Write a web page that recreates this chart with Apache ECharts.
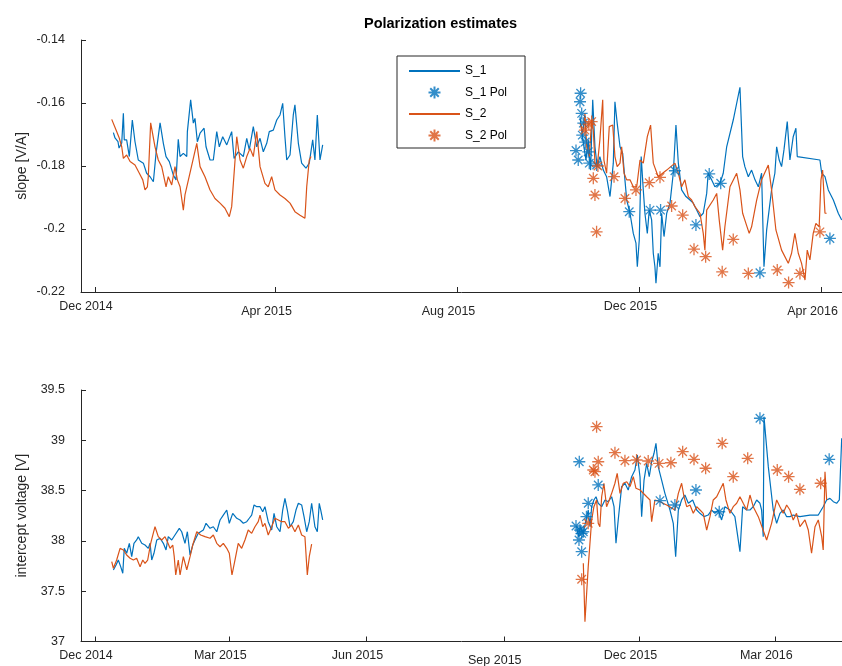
<!DOCTYPE html>
<html><head><meta charset="utf-8">
<script src="https://cdn.jsdelivr.net/npm/echarts@6/dist/echarts.min.js"></script>
<style>html,body{margin:0;padding:0;background:#fff}#c{width:842px;height:666px}</style>
</head><body><div id="c"></div><script>
// ---- data (x = days since 2014-12-01) ----
const xTickDatesTop = ['2014-12-01','2015-04-01','2015-08-01','2015-12-01','2016-04-01'];
const xTickLabelsTop = ['Dec 2014','Apr 2015','Aug 2015','Dec 2015','Apr 2016'];
const xTickDatesBottom = ['2014-12-01','2015-03-01','2015-06-01','2015-09-01','2015-12-01','2016-03-01'];
const xTickLabelsBottom = ['Dec 2014','Mar 2015','Jun 2015','Sep 2015','Dec 2015','Mar 2016'];
const xMinDay = -9.4, xMaxDay = 500.7;

const topS1Seg1 = [[12.3,-0.1694],[13.4,-0.1711],[15.4,-0.1723],[16.1,-0.1743],[17.9,-0.1727],[19.0,-0.1633],[19.6,-0.1717],[21.2,-0.1717],[23.0,-0.1770],[25.0,-0.1654],[26.8,-0.1723],[29.0,-0.1781],[32.4,-0.1791],[34.6,-0.1823],[36.9,-0.1834],[39.1,-0.1850],[40.9,-0.1760],[43.6,-0.1663],[45.8,-0.1728],[47.6,-0.1770],[49.8,-0.1786],[52.5,-0.1829],[54.3,-0.1844],[55.8,-0.1715],[57.0,-0.1770],[59.2,-0.1760],[61.5,-0.1770],[61.9,-0.1691],[64.1,-0.1590],[65.9,-0.1664],[67.0,-0.1649],[68.6,-0.1723],[70.4,-0.1696],[73.1,-0.1680],[74.4,-0.1739],[77.1,-0.1781],[79.3,-0.1781],[81.6,-0.1691],[83.3,-0.1739],[85.6,-0.1707],[88.3,-0.1733],[91.6,-0.1691],[93.2,-0.1776],[96.0,-0.1755],[99.4,-0.1770],[101.7,-0.1712],[103.4,-0.1749],[106.1,-0.1675],[108.4,-0.1739],[110.6,-0.1712],[112.8,-0.1755],[115.1,-0.1728],[116.8,-0.1691],[119.5,-0.1686],[121.8,-0.1654],[124.0,-0.1638],[125.8,-0.1601],[127.3,-0.1707],[128.5,-0.1781],[130.7,-0.1765],[132.9,-0.1638],[134.0,-0.1606],[136.3,-0.1728],[138.5,-0.1791],[141.4,-0.1807],[143.6,-0.1791],[145.9,-0.1717],[147.4,-0.1781],[149.0,-0.1638],[150.8,-0.1781],[152.6,-0.1733]];
const topS1Seg2 = [[325.1,-0.1643],[326.2,-0.1686],[327.7,-0.1739],[329.1,-0.1781],[330.6,-0.1717],[332.2,-0.1813],[333.6,-0.1590],[335.1,-0.1739],[336.6,-0.1802],[338.4,-0.1770],[340.7,-0.1813],[342.9,-0.1834],[345.2,-0.1897],[346.3,-0.1844],[347.4,-0.1791],[348.5,-0.1596],[350.0,-0.1664],[351.9,-0.1739],[353.7,-0.1760],[355.2,-0.1844],[356.4,-0.1908],[358.6,-0.1950],[360.8,-0.2014],[362.6,-0.2045],[363.5,-0.2120],[364.8,-0.2035],[366.1,-0.1770],[367.5,-0.1876],[368.6,-0.1950],[370.2,-0.2014],[371.5,-0.1940],[373.1,-0.1971],[374.2,-0.2077],[375.3,-0.2120],[376.0,-0.2172],[377.5,-0.2077],[378.7,-0.2120],[379.8,-0.1950],[381.4,-0.2024],[383.2,-0.1950],[385.4,-0.1918],[387.6,-0.1823],[389.4,-0.1670],[391.0,-0.1791],[393.2,-0.1876],[396.1,-0.1897],[398.8,-0.1908],[401.0,-0.1918],[403.3,-0.1940],[405.5,-0.1961],[407.7,-0.1950],[410.0,-0.1887],[411.0,-0.1823],[413.3,-0.1844],[415.5,-0.1866],[418.9,-0.1855],[421.1,-0.1823],[423.4,-0.1739],[427.8,-0.1654],[432.3,-0.1550],[434.1,-0.1770],[435.6,-0.1802],[437.9,-0.1834],[440.1,-0.1813],[442.4,-0.1844],[444.6,-0.1866],[446.8,-0.1823],[448.4,-0.2120],[450.2,-0.2003],[453.5,-0.1876],[455.7,-0.1823],[456.9,-0.1739],[458.6,-0.1781],[460.2,-0.1802],[461.8,-0.1749],[464.0,-0.1659],[465.8,-0.1781],[468.0,-0.1707],[469.8,-0.1680],[470.7,-0.1770],[485.9,-0.1781],[487.1,-0.1823],[489.3,-0.1834],[491.5,-0.1876],[494.9,-0.1908],[498.2,-0.1950],[500.5,-0.1971]];
const topS2Seg1 = [[11.2,-0.1652],[14.1,-0.1686],[16.3,-0.1712],[17.9,-0.1739],[19.0,-0.1776],[21.2,-0.1765],[23.5,-0.1786],[26.8,-0.1797],[29.7,-0.1823],[32.0,-0.1844],[33.5,-0.1876],[35.1,-0.1866],[35.7,-0.1834],[37.3,-0.1663],[40.2,-0.1739],[42.4,-0.1781],[44.7,-0.1802],[47.6,-0.1866],[49.1,-0.1834],[51.4,-0.1860],[53.6,-0.1802],[55.2,-0.1844],[57.0,-0.1866],[59.2,-0.1940],[60.3,-0.1892],[68.2,-0.1728],[70.4,-0.1802],[73.7,-0.1834],[77.1,-0.1876],[80.4,-0.1903],[83.8,-0.1918],[87.1,-0.1934],[90.0,-0.1961],[91.6,-0.1929],[95.0,-0.1707],[97.2,-0.1781],[99.4,-0.1807],[101.7,-0.1770],[103.9,-0.1744],[106.1,-0.1770],[108.4,-0.1691],[110.6,-0.1802],[113.9,-0.1855],[116.1,-0.1866],[118.4,-0.1834],[120.6,-0.1876],[124.0,-0.1892],[127.3,-0.1903],[130.7,-0.1918],[134.0,-0.1945],[137.4,-0.1956],[140.7,-0.1966],[141.9,-0.1866],[143.6,-0.1781],[144.8,-0.1770]];
const topS2Seg2 = [[325.1,-0.1664],[326.9,-0.1696],[328.4,-0.1633],[329.6,-0.1739],[331.3,-0.1770],[332.9,-0.1654],[334.0,-0.1686],[335.1,-0.1791],[336.6,-0.1802],[338.4,-0.1717],[340.3,-0.1590],[341.1,-0.1781],[342.9,-0.1823],[344.7,-0.1675],[347.0,-0.1670],[348.5,-0.1770],[350.0,-0.1802],[351.9,-0.1791],[353.0,-0.1739],[354.6,-0.1823],[356.4,-0.1844],[358.6,-0.1844],[360.8,-0.1866],[363.1,-0.1866],[365.3,-0.1781],[367.5,-0.1791],[370.2,-0.1707],[372.4,-0.1670],[374.2,-0.1791],[377.5,-0.1834],[383.2,-0.1813],[388.7,-0.1791],[391.0,-0.1823],[393.2,-0.1866],[395.4,-0.1844],[397.7,-0.1897],[399.9,-0.1908],[402.1,-0.1929],[405.5,-0.1950],[407.7,-0.2014],[408.8,-0.2067],[410.0,-0.1940],[414.4,-0.1908],[416.7,-0.1887],[418.4,-0.1971],[420.7,-0.2067],[422.2,-0.1993],[425.6,-0.1866],[430.1,-0.1823],[432.3,-0.1876],[434.1,-0.1950],[436.3,-0.1982],[438.5,-0.2014],[440.1,-0.1993],[443.5,-0.1908],[446.8,-0.1844],[451.3,-0.1797],[453.5,-0.1876],[456.4,-0.2003],[460.2,-0.2067],[464.7,-0.2109],[466.9,-0.2077],[469.1,-0.2014],[471.4,-0.2077],[473.6,-0.2109],[475.9,-0.2162],[477.4,-0.2067],[479.2,-0.2098],[481.4,-0.2014],[483.2,-0.1982],[485.4,-0.1993],[486.6,-0.1844],[487.7,-0.1813],[489.3,-0.1950],[490.4,-0.1950]];
const topS1Pol = [[325.5,-0.1569],[325.1,-0.1596],[326.2,-0.1633],[327.3,-0.1664],[326.6,-0.1702],[328.6,-0.1724],[322.4,-0.1751],[323.9,-0.1781],[330.6,-0.1755],[331.3,-0.1791],[336.2,-0.1797],[358.1,-0.1945],[372.0,-0.1940],[379.1,-0.1940],[388.7,-0.1815],[411.7,-0.1825],[419.4,-0.1855],[402.8,-0.1987],[445.7,-0.2139],[492.6,-0.2030]];
const topS2Pol = [[328.4,-0.1686],[331.0,-0.1667],[332.9,-0.1659],[334.0,-0.1839],[335.1,-0.1892],[336.2,-0.2009],[337.1,-0.1800],[347.9,-0.1834],[355.2,-0.1903],[362.6,-0.1876],[371.5,-0.1853],[378.7,-0.1836],[386.5,-0.1927],[393.9,-0.1956],[401.5,-0.2064],[409.3,-0.2088],[420.4,-0.2136],[427.8,-0.2033],[437.9,-0.2141],[457.3,-0.2130],[464.9,-0.2170],[472.5,-0.2141],[485.9,-0.2009]];

const botS1Seg1 = [[12.3,37.711],[14.1,37.760],[15.6,37.810],[17.2,37.744],[18.6,37.678],[19.6,37.926],[21.2,37.877],[23.0,37.976],[24.6,37.843],[26.1,37.976],[27.9,38.009],[29.0,38.042],[31.3,37.976],[33.5,37.959],[35.7,37.926],[36.9,37.976],[38.0,37.810],[39.5,37.877],[41.4,38.009],[43.6,38.026],[45.8,37.976],[47.6,37.910],[49.1,38.042],[51.4,38.009],[53.6,38.059],[56.5,38.125],[58.1,38.091],[60.3,37.976],[61.9,38.091],[63.7,37.860],[65.5,37.959],[67.0,38.009],[69.2,38.075],[72.6,38.108],[74.4,38.175],[77.1,38.125],[79.3,38.141],[81.6,38.091],[83.8,38.208],[86.0,38.257],[88.3,38.307],[90.0,38.175],[92.3,38.274],[95.0,38.225],[97.2,38.208],[99.4,38.175],[101.7,38.191],[103.4,38.225],[105.0,38.257],[106.6,38.357],[108.4,38.340],[110.6,38.340],[112.4,38.290],[113.9,38.340],[116.1,38.191],[118.4,38.108],[120.0,38.274],[121.8,38.141],[124.0,38.091],[125.8,38.307],[127.3,38.423],[128.9,38.307],[130.7,38.141],[132.9,38.191],[134.7,38.307],[136.3,38.374],[138.5,38.357],[140.1,38.241],[141.9,38.091],[143.6,38.191],[145.2,38.374],[147.4,38.141],[149.0,38.091],[150.3,38.374],[151.3,38.307],[152.6,38.208]];
const botS1Seg2 = [[322.9,38.141],[323.9,38.042],[325.5,38.141],[327.3,38.075],[329.1,38.208],[330.6,38.307],[331.8,38.141],[332.9,38.340],[334.4,38.407],[335.8,38.439],[337.3,38.374],[339.6,38.340],[341.8,38.407],[344.0,38.390],[346.3,38.439],[347.9,38.340],[349.2,37.976],[350.7,38.208],[353.0,38.539],[355.2,38.573],[357.4,38.506],[359.7,38.638],[361.9,38.705],[363.5,38.854],[365.3,38.638],[366.4,38.241],[368.0,38.605],[369.8,38.771],[371.5,38.638],[373.1,38.787],[374.7,38.871],[376.0,38.970],[377.5,38.738],[379.8,38.605],[382.0,38.473],[385.4,38.307],[387.6,38.175],[389.2,37.843],[391.0,38.307],[393.2,38.407],[395.4,38.456],[397.7,38.374],[400.6,38.407],[403.3,38.307],[405.5,38.274],[408.2,38.241],[411.0,38.257],[413.3,38.307],[415.5,38.274],[417.7,38.307],[420.0,38.208],[422.2,38.340],[425.6,38.307],[428.9,38.241],[432.3,37.893],[434.1,38.340],[436.8,38.307],[439.0,38.307],[441.2,38.340],[443.5,38.407],[445.7,38.374],[446.8,38.307],[447.9,38.042],[448.4,39.235],[451.3,38.738],[454.6,38.307],[456.9,38.175],[459.1,38.274],[461.3,38.307],[463.6,38.241],[465.8,38.241],[468.0,38.257],[472.5,38.241],[479.2,38.257],[484.8,38.257],[488.1,38.340],[490.4,38.407],[492.6,38.423],[494.9,38.390],[497.1,38.374],[498.9,38.407],[500.5,39.020]];
const botS2Seg1 = [[11.2,37.793],[12.3,37.728],[14.5,37.810],[16.8,37.926],[19.0,37.910],[21.2,37.860],[23.5,37.827],[25.7,37.810],[27.9,37.827],[30.2,37.744],[32.0,37.810],[33.5,37.777],[35.3,37.810],[37.3,37.976],[40.2,38.141],[42.4,38.042],[44.7,38.009],[46.9,38.042],[48.5,37.992],[50.3,37.926],[52.1,37.959],[53.1,37.843],[54.1,37.661],[55.8,37.810],[57.0,37.661],[59.2,37.843],[61.5,37.711],[63.7,37.843],[65.5,37.959],[68.2,38.091],[70.8,38.059],[73.7,38.042],[77.1,38.026],[79.3,38.059],[81.6,37.976],[83.8,37.942],[86.0,37.976],[88.3,37.926],[90.0,37.877],[91.8,37.661],[93.8,37.810],[96.0,37.976],[98.3,37.926],[100.5,38.009],[102.7,38.108],[105.0,38.075],[107.2,38.141],[109.4,38.191],[110.6,38.257],[112.4,38.141],[113.9,38.175],[116.1,38.059],[118.4,38.141],[120.6,38.225],[122.9,38.208],[125.1,38.191],[127.3,38.191],[129.6,38.125],[131.8,38.158],[134.0,38.091],[136.3,38.158],[138.5,38.059],[140.7,38.042],[142.3,37.661],[143.6,37.843],[145.2,37.969]];
const botS2Seg2 = [[327.3,37.777],[328.4,37.197],[330.6,37.744],[332.9,38.208],[334.4,38.340],[336.2,38.407],[337.3,38.175],[338.4,38.141],[339.6,38.439],[341.1,38.573],[342.9,38.340],[344.7,38.407],[346.3,38.473],[348.5,38.573],[350.0,38.672],[351.9,38.473],[354.1,38.573],[356.4,38.588],[358.6,38.539],[360.8,38.638],[362.6,38.523],[365.3,38.506],[369.8,38.439],[372.0,38.407],[373.1,38.191],[375.3,38.407],[378.7,38.390],[383.2,38.357],[388.7,38.307],[391.0,38.473],[393.2,38.573],[394.8,38.439],[396.6,38.340],[398.8,38.357],[401.0,38.274],[403.3,38.340],[405.5,38.307],[407.7,38.274],[410.0,38.108],[412.2,38.241],[414.4,38.407],[416.7,38.439],[418.9,38.506],[421.1,38.573],[422.9,38.407],[425.6,38.274],[427.8,38.340],[430.1,38.374],[432.3,38.439],[434.5,38.374],[436.8,38.307],[439.0,38.456],[441.2,38.340],[444.6,38.241],[450.2,38.009],[453.5,38.175],[456.9,38.407],[459.1,38.340],[461.3,38.274],[463.6,38.357],[465.8,38.307],[468.0,38.208],[470.2,38.274],[472.5,38.141],[475.9,38.208],[478.1,38.108],[480.3,37.877],[482.6,38.141],[484.8,38.208],[487.1,38.042],[488.1,37.910],[489.3,38.688],[490.4,38.407]];
const botS1Pol = [[324.6,38.787],[322.4,38.148],[325.1,38.108],[326.2,38.075],[327.3,38.091],[326.2,37.893],[324.4,38.009],[329.4,38.241],[330.6,38.374],[337.3,38.556],[378.7,38.400],[388.7,38.357],[402.8,38.506],[418.4,38.290],[445.7,39.219],[492.1,38.811]];
const botS2Pol = [[336.2,39.135],[337.3,38.787],[334.0,38.705],[335.1,38.688],[326.2,37.618],[330.6,38.175],[348.5,38.877],[355.2,38.797],[363.0,38.804],[370.8,38.794],[378.1,38.771],[386.0,38.777],[393.9,38.887],[401.5,38.811],[409.3,38.722],[420.4,38.970],[427.8,38.638],[437.5,38.821],[457.3,38.705],[464.9,38.638],[472.5,38.513],[486.4,38.573]];

// ---- build ----
const BASE = Date.UTC(2014, 11, 1), DAY = 864e5;
const toT = d => BASE + d * DAY;
const conv = arr => arr.map(p => [toT(p[0]), p[1]]);
const joinSegs = (a, b) => conv(a).concat([[toT(a[a.length-1][0] + 1), null]], conv(b));
const parseD = s => { const p = s.split('-').map(Number); return Date.UTC(p[0], p[1]-1, p[2]); };
const ticksTop = xTickDatesTop.map(parseD), ticksBot = xTickDatesBottom.map(parseD);

const C1 = '#0072BD', C2 = '#D95319', AX = '#262626';
const STAR = 'path://M0,5L10,5M5,0L5,10M1.46,1.46L8.54,8.54M1.46,8.54L8.54,1.46';
const FONT = '"Liberation Sans", Arial, Helvetica, sans-serif';

function xAxis(gi, ticks, labels) {
  return {
    type: 'value', gridIndex: gi, min: toT(xMinDay), max: toT(xMaxDay), scale: true,
    axisLine: { show: true, onZero: false, lineStyle: { color: AX, width: 1 } },
    axisTick: { show: true, inside: true, length: 5, customValues: ticks, lineStyle: { color: AX } },
    axisLabel: { customValues: ticks, color: AX, fontSize: 12.5, fontFamily: FONT, margin: 8,
      formatter: v => { const i = ticks.indexOf(v); if (i < 0) return ''; const s = labels[i];
        return /[gpjqy]/.test(s) ? '{d|' + s + '}' : '{n|' + s + '}'; },
      rich: { n: { fontSize: 12.5, fontFamily: FONT, color: AX, padding: [0, 18, 0, 0] },
              d: { fontSize: 12.5, fontFamily: FONT, color: AX, padding: [5, 18, 0, 0] } } },
    splitLine: { show: false }
  };
}
function yAxis(gi, min, max, interval, name) {
  return {
    type: 'value', gridIndex: gi, min, max, interval, name, nameLocation: 'middle', nameGap: 52,
    nameMoveOverlap: false,
    nameTextStyle: { color: AX, fontSize: 14, fontFamily: FONT },
    axisLine: { show: true, onZero: false, lineStyle: { color: AX, width: 1 } },
    axisTick: { show: true, inside: true, length: 5, lineStyle: { color: AX } },
    axisLabel: { color: AX, fontSize: 12.5, fontFamily: FONT, margin: 16 },
    splitLine: { show: false }
  };
}
const lineS = (name, data, color, ai) => ({ name, type: 'line', data, xAxisIndex: ai, yAxisIndex: ai,
  symbol: 'none', showSymbol: false, connectNulls: false, lineStyle: { color, width: 1.2 }, itemStyle: { color }, z: 2 });
const polS = (name, data, color, ai) => ({ name, type: 'scatter', data: conv(data), xAxisIndex: ai, yAxisIndex: ai,
  symbol: STAR, symbolSize: 12, itemStyle: { color: 'none', borderColor: color, borderWidth: 1.3 }, z: 3 });

const chart = echarts.init(document.getElementById('c'), null, { renderer: 'canvas' });
chart.setOption({
  animation: false,
  backgroundColor: '#fff',
  title: { text: 'Polarization estimates', left: 359, top: 11,
    textStyle: { fontSize: 14.5, fontWeight: 'bold', color: '#000', fontFamily: FONT } },
  legend: {
    orient: 'vertical', left: 397, top: 56, itemWidth: 51, itemHeight: 12, itemGap: 7,
    padding: [9, 18, 4, 11], borderColor: AX, borderWidth: 1, backgroundColor: '#fff', borderRadius: 0,
    textStyle: { fontSize: 12, color: '#000', fontFamily: FONT },
    data: [{ name: 'S_1', itemStyle: { opacity: 0 } }, 'S_1 Pol', { name: 'S_2', itemStyle: { opacity: 0 } }, 'S_2 Pol']
  },
  grid: [
    { left: 81, top: 40, right: 0, height: 252, outerBoundsMode: 'none', containLabel: false },
    { left: 81, top: 390, right: 0, height: 251.5, outerBoundsMode: 'none', containLabel: false }
  ],
  xAxis: [xAxis(0, ticksTop, xTickLabelsTop), xAxis(1, ticksBot, xTickLabelsBottom)],
  yAxis: [yAxis(0, -0.22, -0.14, 0.02, 'slope [V/A]'), yAxis(1, 37, 39.5, 0.5, 'intercept voltage [V]')],
  series: [
    lineS('S_1', joinSegs(topS1Seg1, topS1Seg2), C1, 0),
    polS('S_1 Pol', topS1Pol, C1, 0),
    lineS('S_2', joinSegs(topS2Seg1, topS2Seg2), C2, 0),
    polS('S_2 Pol', topS2Pol, C2, 0),
    lineS('S_1', joinSegs(botS1Seg1, botS1Seg2), C1, 1),
    polS('S_1 Pol', botS1Pol, C1, 1),
    lineS('S_2', joinSegs(botS2Seg1, botS2Seg2), C2, 1),
    polS('S_2 Pol', botS2Pol, C2, 1)
  ]
});
</script></body></html>
